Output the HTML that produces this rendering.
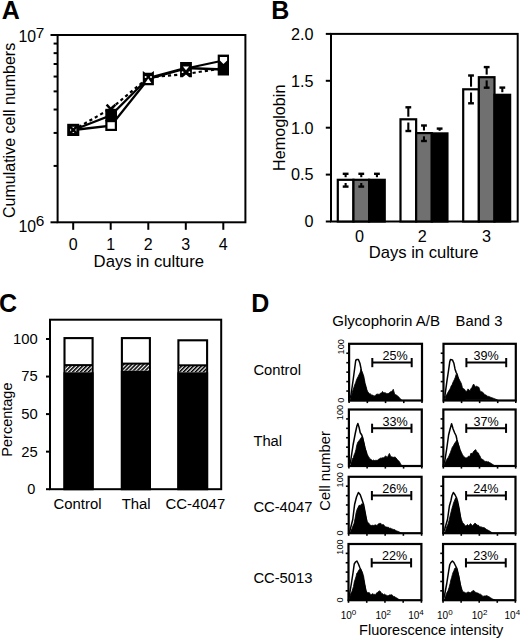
<!DOCTYPE html>
<html><head><meta charset="utf-8"><style>
html,body{margin:0;padding:0;background:#fff;}
svg{display:block;}
svg text{font-family:"Liberation Sans", sans-serif;fill:#000;}
</style></head><body>
<svg width="520" height="640" viewBox="0 0 520 640">
<rect width="520" height="640" fill="#fff"/>
<text x="1.80" y="18.80" font-size="25" text-anchor="start" font-weight="bold" >A</text>
<rect x="57.60" y="35.00" width="187.80" height="187.30" fill="none" stroke="#000" stroke-width="2" />
<line x1="50.50" y1="222.30" x2="57.60" y2="222.30" stroke="#000" stroke-width="2" />
<line x1="50.50" y1="35.00" x2="57.60" y2="35.00" stroke="#000" stroke-width="2" />
<line x1="53.60" y1="165.92" x2="57.60" y2="165.92" stroke="#000" stroke-width="2" />
<line x1="53.60" y1="132.94" x2="57.60" y2="132.94" stroke="#000" stroke-width="2" />
<line x1="53.60" y1="109.53" x2="57.60" y2="109.53" stroke="#000" stroke-width="2" />
<line x1="53.60" y1="91.38" x2="57.60" y2="91.38" stroke="#000" stroke-width="2" />
<line x1="53.60" y1="76.55" x2="57.60" y2="76.55" stroke="#000" stroke-width="2" />
<line x1="53.60" y1="64.01" x2="57.60" y2="64.01" stroke="#000" stroke-width="2" />
<line x1="53.60" y1="53.15" x2="57.60" y2="53.15" stroke="#000" stroke-width="2" />
<line x1="53.60" y1="43.57" x2="57.60" y2="43.57" stroke="#000" stroke-width="2" />
<line x1="73.20" y1="222.30" x2="73.20" y2="229.80" stroke="#000" stroke-width="2" />
<text x="73.20" y="249.50" font-size="16" text-anchor="middle" font-weight="normal" >0</text>
<line x1="110.70" y1="222.30" x2="110.70" y2="229.80" stroke="#000" stroke-width="2" />
<text x="110.70" y="249.50" font-size="16" text-anchor="middle" font-weight="normal" >1</text>
<line x1="148.30" y1="222.30" x2="148.30" y2="229.80" stroke="#000" stroke-width="2" />
<text x="148.30" y="249.50" font-size="16" text-anchor="middle" font-weight="normal" >2</text>
<line x1="185.80" y1="222.30" x2="185.80" y2="229.80" stroke="#000" stroke-width="2" />
<text x="185.80" y="249.50" font-size="16" text-anchor="middle" font-weight="normal" >3</text>
<line x1="223.30" y1="222.30" x2="223.30" y2="229.80" stroke="#000" stroke-width="2" />
<text x="223.30" y="249.50" font-size="16" text-anchor="middle" font-weight="normal" >4</text>
<text x="148.80" y="267.20" font-size="16.7" text-anchor="middle" font-weight="normal" >Days in culture</text>
<text x="0.00" y="0.00" font-size="16.0" text-anchor="middle" font-weight="normal" transform="translate(14.8,130.4) rotate(-90)">Cumulative cell numbers</text>
<text x="18.50" y="42.40" font-size="15.8" text-anchor="start" font-weight="normal" >10</text>
<text x="35.70" y="38.00" font-size="15.4" text-anchor="start" font-weight="normal" >7</text>
<text x="18.50" y="231.80" font-size="15.8" text-anchor="start" font-weight="normal" >10</text>
<text x="35.70" y="226.40" font-size="15.4" text-anchor="start" font-weight="normal" >6</text>
<polyline points="73.30,130.00 111.00,125.60 148.30,79.00 186.00,68.50 223.30,60.50" fill="none" stroke="#000" stroke-width="2.3" />
<polyline points="73.30,130.00 111.00,115.20 148.30,78.00 186.00,68.00 223.30,69.50" fill="none" stroke="#000" stroke-width="2.3" />
<polyline points="73.30,130.00 111.00,108.50 148.30,77.50 186.00,74.00 223.30,68.20" fill="none" stroke="#000" stroke-width="2.2" stroke-dasharray="3.2,3.0"/>
<rect x="68.70" y="125.30" width="9.10" height="9.20" fill="#fff" stroke="#000" stroke-width="3.0" />
<line x1="69.50" y1="126.10" x2="77.10" y2="133.80" stroke="#000" stroke-width="2.6" />
<line x1="69.50" y1="133.80" x2="77.10" y2="126.10" stroke="#000" stroke-width="2.6" />
<line x1="106.60" y1="104.60" x2="111.00" y2="109.40" stroke="#000" stroke-width="2.4" />
<line x1="115.40" y1="104.60" x2="111.00" y2="109.40" stroke="#000" stroke-width="2.4" />
<rect x="105.30" y="108.80" width="11.70" height="12.60" fill="#000" stroke="#000" stroke-width="0" />
<rect x="106.40" y="121.10" width="9.50" height="8.80" fill="#fff" stroke="#000" stroke-width="2.2" />
<polygon points="142.8,71 145.2,72.8 151.4,72.8 153.9,71 153.9,85.3 142.8,85.3" fill="#000"/>
<polygon points="145.3,82.9 151.3,82.9 148.3,78.6" fill="#fff"/>
<circle cx="145.6" cy="76.9" r="1.0" fill="#fff"/><circle cx="151.0" cy="76.9" r="1.0" fill="#fff"/>
<polygon points="180.1,61.9 191.9,61.9 191.9,77.2 189.3,77.2 186,74.6 182.7,77.2 180.1,77.2" fill="#000"/>
<polygon points="182.9,66.4 189.1,66.4 186,70.2" fill="#fff"/>
<circle cx="182.6" cy="72.2" r="0.9" fill="#fff"/><circle cx="189.4" cy="72.2" r="0.9" fill="#fff"/>
<rect x="217.70" y="54.60" width="11.30" height="20.90" fill="#000" stroke="#000" stroke-width="0" />
<polygon points="219.9,57 227.1,57 227.1,60.6 223.5,64 219.9,60.6" fill="#fff"/>
<text x="271.20" y="18.80" font-size="25" text-anchor="start" font-weight="bold" >B</text>
<rect x="331.00" y="33.90" width="186.70" height="187.60" fill="none" stroke="#000" stroke-width="2" />
<line x1="325.80" y1="221.50" x2="331.00" y2="221.50" stroke="#000" stroke-width="2" />
<text x="313.60" y="227.30" font-size="16.2" text-anchor="end" font-weight="normal" >0</text>
<line x1="325.80" y1="174.60" x2="331.00" y2="174.60" stroke="#000" stroke-width="2" />
<text x="313.60" y="180.40" font-size="16.2" text-anchor="end" font-weight="normal" >0.5</text>
<line x1="325.80" y1="127.70" x2="331.00" y2="127.70" stroke="#000" stroke-width="2" />
<text x="313.60" y="133.50" font-size="16.2" text-anchor="end" font-weight="normal" >1.0</text>
<line x1="325.80" y1="80.80" x2="331.00" y2="80.80" stroke="#000" stroke-width="2" />
<text x="313.60" y="86.60" font-size="16.2" text-anchor="end" font-weight="normal" >1.5</text>
<line x1="325.80" y1="33.90" x2="331.00" y2="33.90" stroke="#000" stroke-width="2" />
<text x="313.60" y="39.70" font-size="16.2" text-anchor="end" font-weight="normal" >2.0</text>
<text x="0.00" y="0.00" font-size="16.2" text-anchor="middle" font-weight="normal" transform="translate(285.4,127.8) rotate(-90)">Hemoglobin</text>
<text x="359.40" y="241.60" font-size="16.2" text-anchor="middle" font-weight="normal" >0</text>
<text x="422.20" y="241.60" font-size="16.2" text-anchor="middle" font-weight="normal" >2</text>
<text x="486.50" y="241.60" font-size="16.2" text-anchor="middle" font-weight="normal" >3</text>
<text x="423.60" y="258.20" font-size="16.6" text-anchor="middle" font-weight="normal" >Days in culture</text>
<rect x="337.80" y="179.80" width="15.65" height="41.70" fill="#fff" stroke="#000" stroke-width="2.2" />
<rect x="353.45" y="179.80" width="15.65" height="41.70" fill="#707070" stroke="#000" stroke-width="2.2" />
<rect x="369.10" y="179.80" width="15.65" height="41.70" fill="#000" stroke="#000" stroke-width="2.2" />
<rect x="400.50" y="119.30" width="15.65" height="102.20" fill="#fff" stroke="#000" stroke-width="2.2" />
<rect x="416.15" y="133.10" width="15.65" height="88.40" fill="#707070" stroke="#000" stroke-width="2.2" />
<rect x="431.80" y="133.40" width="15.65" height="88.10" fill="#000" stroke="#000" stroke-width="2.2" />
<rect x="463.20" y="89.30" width="15.65" height="132.20" fill="#fff" stroke="#000" stroke-width="2.2" />
<rect x="478.85" y="77.20" width="15.65" height="144.30" fill="#707070" stroke="#000" stroke-width="2.2" />
<rect x="494.50" y="94.80" width="15.65" height="126.70" fill="#000" stroke="#000" stroke-width="2.2" />
<line x1="342.73" y1="173.80" x2="348.52" y2="173.80" stroke="#000" stroke-width="2.4" />
<line x1="345.62" y1="173.80" x2="345.62" y2="177.20" stroke="#000" stroke-width="2.1" />
<line x1="342.73" y1="186.60" x2="348.52" y2="186.60" stroke="#000" stroke-width="2.4" />
<line x1="345.62" y1="186.60" x2="345.62" y2="183.00" stroke="#000" stroke-width="2.1" />
<line x1="358.38" y1="173.80" x2="364.17" y2="173.80" stroke="#000" stroke-width="2.4" />
<line x1="361.27" y1="173.80" x2="361.27" y2="177.20" stroke="#000" stroke-width="2.1" />
<line x1="358.38" y1="186.60" x2="364.17" y2="186.60" stroke="#000" stroke-width="2.4" />
<line x1="361.27" y1="186.60" x2="361.27" y2="183.00" stroke="#000" stroke-width="2.1" />
<line x1="374.03" y1="173.80" x2="379.82" y2="173.80" stroke="#000" stroke-width="2.4" />
<line x1="376.93" y1="173.80" x2="376.93" y2="177.20" stroke="#000" stroke-width="2.1" />
<line x1="405.43" y1="107.30" x2="411.22" y2="107.30" stroke="#000" stroke-width="2.4" />
<line x1="408.32" y1="107.30" x2="408.32" y2="116.70" stroke="#000" stroke-width="2.1" />
<line x1="405.43" y1="131.00" x2="411.22" y2="131.00" stroke="#000" stroke-width="2.4" />
<line x1="408.32" y1="131.00" x2="408.32" y2="122.50" stroke="#000" stroke-width="2.1" />
<line x1="421.07" y1="125.50" x2="426.87" y2="125.50" stroke="#000" stroke-width="2.4" />
<line x1="423.97" y1="125.50" x2="423.97" y2="130.50" stroke="#000" stroke-width="2.1" />
<line x1="421.07" y1="141.00" x2="426.87" y2="141.00" stroke="#000" stroke-width="2.4" />
<line x1="423.97" y1="141.00" x2="423.97" y2="136.30" stroke="#000" stroke-width="2.1" />
<line x1="436.73" y1="128.60" x2="442.52" y2="128.60" stroke="#000" stroke-width="2.4" />
<line x1="439.62" y1="128.60" x2="439.62" y2="130.80" stroke="#000" stroke-width="2.1" />
<line x1="468.12" y1="75.50" x2="473.92" y2="75.50" stroke="#000" stroke-width="2.4" />
<line x1="471.02" y1="75.50" x2="471.02" y2="86.70" stroke="#000" stroke-width="2.1" />
<line x1="468.12" y1="103.30" x2="473.92" y2="103.30" stroke="#000" stroke-width="2.4" />
<line x1="471.02" y1="103.30" x2="471.02" y2="92.50" stroke="#000" stroke-width="2.1" />
<line x1="483.77" y1="67.10" x2="489.57" y2="67.10" stroke="#000" stroke-width="2.4" />
<line x1="486.67" y1="67.10" x2="486.67" y2="74.60" stroke="#000" stroke-width="2.1" />
<line x1="483.77" y1="87.70" x2="489.57" y2="87.70" stroke="#000" stroke-width="2.4" />
<line x1="486.67" y1="87.70" x2="486.67" y2="80.40" stroke="#000" stroke-width="2.1" />
<line x1="499.43" y1="87.60" x2="505.22" y2="87.60" stroke="#000" stroke-width="2.4" />
<line x1="502.32" y1="87.60" x2="502.32" y2="92.20" stroke="#000" stroke-width="2.1" />
<text x="-0.90" y="312.00" font-size="25" text-anchor="start" font-weight="bold" >C</text>
<rect x="50.00" y="319.70" width="171.20" height="169.50" fill="none" stroke="#000" stroke-width="2" />
<line x1="46.00" y1="489.20" x2="50.00" y2="489.20" stroke="#000" stroke-width="2" />
<text x="35.40" y="494.10" font-size="14.5" text-anchor="end" font-weight="normal" >0</text>
<line x1="46.00" y1="451.65" x2="50.00" y2="451.65" stroke="#000" stroke-width="2" />
<text x="37.80" y="456.55" font-size="14.8" text-anchor="end" font-weight="normal" >25</text>
<line x1="46.00" y1="414.10" x2="50.00" y2="414.10" stroke="#000" stroke-width="2" />
<text x="37.80" y="419.00" font-size="14.8" text-anchor="end" font-weight="normal" >50</text>
<line x1="46.00" y1="376.55" x2="50.00" y2="376.55" stroke="#000" stroke-width="2" />
<text x="37.80" y="381.45" font-size="14.8" text-anchor="end" font-weight="normal" >75</text>
<line x1="46.00" y1="339.00" x2="50.00" y2="339.00" stroke="#000" stroke-width="2" />
<text x="37.80" y="343.90" font-size="14.8" text-anchor="end" font-weight="normal" >100</text>
<text x="0.00" y="0.00" font-size="14.5" text-anchor="middle" font-weight="normal" transform="translate(12.2,419.6) rotate(-90)">Percentage</text>
<defs><pattern id="hatch" patternUnits="userSpaceOnUse" width="2.8" height="4" patternTransform="rotate(45)"><rect width="2.8" height="4" fill="#fff"/><rect width="1.6" height="4" fill="#000"/></pattern></defs>
<rect x="64.50" y="338.10" width="28.10" height="151.10" fill="#fff" stroke="#000" stroke-width="2.1" />
<rect x="65.50" y="365.10" width="26.10" height="7.20" fill="url(#hatch)"/>
<rect x="63.45" y="372.30" width="30.20" height="116.90" fill="#000" stroke="#000" stroke-width="0" />
<line x1="64.50" y1="365.10" x2="92.60" y2="365.10" stroke="#000" stroke-width="2" />
<text x="77.50" y="508.90" font-size="14.9" text-anchor="middle" font-weight="normal" >Control</text>
<rect x="121.90" y="338.10" width="28.00" height="151.10" fill="#fff" stroke="#000" stroke-width="2.1" />
<rect x="122.90" y="363.60" width="26.00" height="7.10" fill="url(#hatch)"/>
<rect x="120.85" y="370.70" width="30.10" height="118.50" fill="#000" stroke="#000" stroke-width="0" />
<line x1="121.90" y1="363.60" x2="149.90" y2="363.60" stroke="#000" stroke-width="2" />
<text x="136.20" y="508.90" font-size="14.9" text-anchor="middle" font-weight="normal" >Thal</text>
<rect x="178.40" y="340.30" width="28.70" height="148.90" fill="#fff" stroke="#000" stroke-width="2.1" />
<rect x="179.40" y="365.30" width="26.70" height="7.00" fill="url(#hatch)"/>
<rect x="177.35" y="372.30" width="30.80" height="116.90" fill="#000" stroke="#000" stroke-width="0" />
<line x1="178.40" y1="365.30" x2="207.10" y2="365.30" stroke="#000" stroke-width="2" />
<text x="195.40" y="508.90" font-size="14.9" text-anchor="middle" font-weight="normal" >CC-4047</text>
<text x="251.30" y="312.00" font-size="25" text-anchor="start" font-weight="bold" >D</text>
<text x="332.20" y="325.80" font-size="15.05" text-anchor="start" font-weight="normal" >Glycophorin A/B</text>
<text x="455.60" y="325.80" font-size="14.75" text-anchor="start" font-weight="normal" >Band 3</text>
<text x="253.40" y="374.60" font-size="14.75" text-anchor="start" font-weight="normal" >Control</text>
<text x="253.40" y="446.20" font-size="14.75" text-anchor="start" font-weight="normal" >Thal</text>
<text x="253.40" y="512.00" font-size="14.75" text-anchor="start" font-weight="normal" >CC-4047</text>
<text x="253.40" y="582.50" font-size="14.75" text-anchor="start" font-weight="normal" >CC-5013</text>
<text x="0.00" y="0.00" font-size="14.75" text-anchor="middle" font-weight="normal" transform="translate(330.2,470.9) rotate(-90)">Cell number</text>
<polygon points="349.20,400.50 350.90,395.50 353.20,379.50 355.75,360.25 357.00,359.50 358.40,359.50 359.90,363.25 361.00,368.50 361.50,372.00 364.20,382.50 367.20,394.50 369.20,400.50" fill="#fff" stroke="#000" stroke-width="1.5" stroke-linejoin="round"/>
<polygon points="350.90,400.50 350.90,396.60 351.83,394.25 352.77,390.38 353.70,388.00 354.63,384.88 355.57,382.84 356.50,379.75 357.35,378.07 358.20,376.45 359.05,374.48 359.90,373.00 361.00,369.25 362.20,372.00 363.25,374.50 363.90,376.70 365.20,383.70 366.05,386.30 366.90,389.70 367.80,391.77 368.70,392.70 369.53,394.09 370.37,393.70 371.20,394.90 372.07,395.21 372.95,395.03 373.82,396.15 374.70,395.80 375.57,395.27 376.43,394.30 377.30,394.00 378.17,394.55 379.03,393.71 379.90,394.50 380.77,392.90 381.63,393.09 382.50,391.40 383.37,392.66 384.23,392.54 385.10,393.20 385.97,392.72 386.83,393.63 387.70,393.60 388.75,393.35 389.80,392.30 390.68,391.66 391.55,391.46 392.43,390.44 393.30,389.30 394.60,394.00 395.70,394.73 396.80,395.30 397.85,396.20 398.90,397.10 400.20,398.80 401.30,399.65 402.40,400.50" fill="#000" stroke="#000" stroke-width="0.8" />
<rect x="349.10" y="343.80" width="72.90" height="56.70" fill="none" stroke="#000" stroke-width="2.2" />
<line x1="346.30" y1="391.05" x2="349.10" y2="391.05" stroke="#000" stroke-width="1.6" />
<line x1="346.30" y1="381.60" x2="349.10" y2="381.60" stroke="#000" stroke-width="1.6" />
<line x1="346.30" y1="372.15" x2="349.10" y2="372.15" stroke="#000" stroke-width="1.6" />
<line x1="346.30" y1="362.70" x2="349.10" y2="362.70" stroke="#000" stroke-width="1.6" />
<line x1="346.30" y1="353.25" x2="349.10" y2="353.25" stroke="#000" stroke-width="1.6" />
<line x1="349.10" y1="400.50" x2="349.10" y2="403.10" stroke="#000" stroke-width="1.6" />
<line x1="367.33" y1="400.50" x2="367.33" y2="403.10" stroke="#000" stroke-width="1.6" />
<line x1="385.55" y1="400.50" x2="385.55" y2="403.10" stroke="#000" stroke-width="1.6" />
<line x1="403.77" y1="400.50" x2="403.77" y2="403.10" stroke="#000" stroke-width="1.6" />
<line x1="422.00" y1="400.50" x2="422.00" y2="403.10" stroke="#000" stroke-width="1.6" />
<line x1="372.30" y1="362.60" x2="411.70" y2="362.60" stroke="#000" stroke-width="2" />
<line x1="372.30" y1="358.00" x2="372.30" y2="367.20" stroke="#000" stroke-width="2" />
<line x1="411.70" y1="358.00" x2="411.70" y2="367.20" stroke="#000" stroke-width="2" />
<text x="395.20" y="360.00" font-size="12.6" text-anchor="middle" font-weight="normal" >25%</text>
<polygon points="443.60,399.80 444.90,395.90 447.10,379.80 448.60,370.00 449.75,361.80 450.50,359.50 452.40,359.90 453.90,363.30 455.00,368.90 456.10,372.30 457.00,374.00 459.60,383.80 462.60,394.80 464.60,399.80" fill="#fff" stroke="#000" stroke-width="1.5" stroke-linejoin="round"/>
<polygon points="445.25,399.80 445.25,396.60 446.00,395.61 446.75,394.61 447.50,392.97 448.25,392.04 449.00,390.30 449.75,389.58 450.50,387.79 451.25,385.74 452.00,385.00 452.75,382.85 453.50,381.16 454.25,379.80 455.18,377.54 456.10,374.50 456.90,375.30 458.00,377.20 458.95,378.95 459.90,380.80 461.00,382.80 461.50,384.10 462.40,387.60 463.45,388.76 464.50,389.30 465.35,390.86 466.20,391.50 467.10,390.75 468.00,388.90 469.05,390.15 470.10,390.60 471.00,388.50 471.90,387.60 472.75,385.39 473.60,384.10 474.45,385.17 475.30,387.10 476.20,386.28 477.10,386.30 477.95,387.13 478.80,387.10 480.10,391.00 480.97,391.70 481.83,391.69 482.70,392.30 483.75,393.28 484.80,394.90 485.58,394.85 486.35,395.17 487.12,396.25 487.90,396.20 488.75,396.44 489.60,396.73 490.45,397.17 491.30,397.50 492.18,397.82 493.05,398.15 493.93,398.48 494.80,398.80 495.67,399.13 496.53,399.47 497.40,399.80" fill="#000" stroke="#000" stroke-width="0.8" />
<rect x="443.50" y="343.80" width="72.30" height="56.70" fill="none" stroke="#000" stroke-width="2.2" />
<line x1="440.70" y1="391.05" x2="443.50" y2="391.05" stroke="#000" stroke-width="1.6" />
<line x1="440.70" y1="381.60" x2="443.50" y2="381.60" stroke="#000" stroke-width="1.6" />
<line x1="440.70" y1="372.15" x2="443.50" y2="372.15" stroke="#000" stroke-width="1.6" />
<line x1="440.70" y1="362.70" x2="443.50" y2="362.70" stroke="#000" stroke-width="1.6" />
<line x1="440.70" y1="353.25" x2="443.50" y2="353.25" stroke="#000" stroke-width="1.6" />
<line x1="443.50" y1="400.50" x2="443.50" y2="403.10" stroke="#000" stroke-width="1.6" />
<line x1="461.57" y1="400.50" x2="461.57" y2="403.10" stroke="#000" stroke-width="1.6" />
<line x1="479.65" y1="400.50" x2="479.65" y2="403.10" stroke="#000" stroke-width="1.6" />
<line x1="497.72" y1="400.50" x2="497.72" y2="403.10" stroke="#000" stroke-width="1.6" />
<line x1="515.80" y1="400.50" x2="515.80" y2="403.10" stroke="#000" stroke-width="1.6" />
<line x1="466.40" y1="362.60" x2="506.20" y2="362.60" stroke="#000" stroke-width="2" />
<line x1="466.40" y1="358.00" x2="466.40" y2="367.20" stroke="#000" stroke-width="2" />
<line x1="506.20" y1="358.00" x2="506.20" y2="367.20" stroke="#000" stroke-width="2" />
<text x="486.20" y="360.00" font-size="12.6" text-anchor="middle" font-weight="normal" >39%</text>
<text x="0.00" y="0.00" font-size="9.2" text-anchor="middle" font-weight="normal" transform="translate(343.50,346.80) rotate(-90)">100</text>
<text x="0.00" y="0.00" font-size="9.2" text-anchor="middle" font-weight="normal" transform="translate(343.50,400.20) rotate(-90)">0</text>
<polygon points="348.90,466.00 350.50,462.00 353.10,444.75 355.40,432.75 356.90,426.00 357.85,423.40 359.10,427.50 360.25,432.75 361.75,435.00 362.50,437.25 364.90,448.00 367.90,460.00 369.90,466.00" fill="#fff" stroke="#000" stroke-width="1.5" stroke-linejoin="round"/>
<polygon points="350.90,466.00 350.90,463.10 351.72,461.39 352.54,458.41 353.36,457.56 354.18,454.73 355.00,453.00 355.95,449.46 356.90,444.75 358.00,441.75 358.95,440.98 359.90,439.50 361.00,438.00 361.75,436.93 362.50,437.25 363.90,442.60 364.75,446.46 365.60,449.50 366.50,451.90 367.40,454.70 368.45,456.51 369.50,458.20 370.37,458.97 371.23,459.61 372.10,460.30 372.97,460.71 373.85,459.86 374.72,460.85 375.60,460.30 376.45,460.35 377.30,460.32 378.15,459.65 379.00,459.00 379.88,458.80 380.75,457.79 381.62,458.19 382.50,457.70 383.37,457.81 384.23,457.17 385.10,456.40 385.97,455.88 386.83,457.35 387.70,456.90 388.55,454.98 389.40,453.40 390.25,455.32 391.10,456.90 392.00,456.87 392.90,457.30 393.95,457.33 395.00,456.90 396.10,457.93 397.20,459.50 398.30,460.55 399.40,461.60 400.70,464.20 401.55,465.10 402.40,466.00" fill="#000" stroke="#000" stroke-width="0.8" />
<rect x="348.90" y="409.50" width="72.90" height="56.50" fill="none" stroke="#000" stroke-width="2.2" />
<line x1="346.10" y1="456.58" x2="348.90" y2="456.58" stroke="#000" stroke-width="1.6" />
<line x1="346.10" y1="447.17" x2="348.90" y2="447.17" stroke="#000" stroke-width="1.6" />
<line x1="346.10" y1="437.75" x2="348.90" y2="437.75" stroke="#000" stroke-width="1.6" />
<line x1="346.10" y1="428.33" x2="348.90" y2="428.33" stroke="#000" stroke-width="1.6" />
<line x1="346.10" y1="418.92" x2="348.90" y2="418.92" stroke="#000" stroke-width="1.6" />
<line x1="348.90" y1="466.00" x2="348.90" y2="468.60" stroke="#000" stroke-width="1.6" />
<line x1="367.12" y1="466.00" x2="367.12" y2="468.60" stroke="#000" stroke-width="1.6" />
<line x1="385.35" y1="466.00" x2="385.35" y2="468.60" stroke="#000" stroke-width="1.6" />
<line x1="403.58" y1="466.00" x2="403.58" y2="468.60" stroke="#000" stroke-width="1.6" />
<line x1="421.80" y1="466.00" x2="421.80" y2="468.60" stroke="#000" stroke-width="1.6" />
<line x1="372.10" y1="428.30" x2="411.50" y2="428.30" stroke="#000" stroke-width="2" />
<line x1="372.10" y1="423.70" x2="372.10" y2="432.90" stroke="#000" stroke-width="2" />
<line x1="411.50" y1="423.70" x2="411.50" y2="432.90" stroke="#000" stroke-width="2" />
<text x="395.00" y="425.70" font-size="12.6" text-anchor="middle" font-weight="normal" >33%</text>
<polygon points="443.30,465.30 444.90,460.50 446.75,448.50 448.60,435.00 450.10,429.00 451.60,423.75 453.10,429.00 454.60,432.75 456.10,435.75 456.90,439.50 457.50,442.00 459.30,449.30 462.30,460.30 464.30,465.30" fill="#fff" stroke="#000" stroke-width="1.5" stroke-linejoin="round"/>
<polygon points="444.90,465.30 444.90,462.75 445.74,461.48 446.57,460.05 447.41,458.22 448.25,457.50 449.00,455.80 449.75,453.99 450.50,452.25 451.45,449.50 452.40,447.00 453.32,445.94 454.25,444.00 455.00,442.86 455.75,441.75 456.90,440.30 457.65,442.12 458.40,444.30 459.30,446.64 460.20,449.80 461.40,452.30 462.40,454.40 463.45,456.27 464.50,457.00 465.35,457.73 466.20,457.90 467.30,457.62 468.40,456.20 469.70,456.60 471.00,453.10 472.30,454.00 473.15,452.07 474.00,451.00 474.90,450.08 475.80,449.70 476.65,451.64 477.50,452.30 478.35,452.92 479.20,454.90 480.10,456.20 481.00,458.80 481.83,459.02 482.67,459.51 483.50,460.10 484.37,460.91 485.23,461.46 486.10,461.40 486.97,461.51 487.83,462.04 488.70,461.80 489.57,462.58 490.43,462.93 491.30,463.50 492.17,464.10 493.03,464.70 493.90,465.30" fill="#000" stroke="#000" stroke-width="0.8" />
<rect x="443.35" y="409.50" width="72.30" height="56.50" fill="none" stroke="#000" stroke-width="2.2" />
<line x1="440.55" y1="456.58" x2="443.35" y2="456.58" stroke="#000" stroke-width="1.6" />
<line x1="440.55" y1="447.17" x2="443.35" y2="447.17" stroke="#000" stroke-width="1.6" />
<line x1="440.55" y1="437.75" x2="443.35" y2="437.75" stroke="#000" stroke-width="1.6" />
<line x1="440.55" y1="428.33" x2="443.35" y2="428.33" stroke="#000" stroke-width="1.6" />
<line x1="440.55" y1="418.92" x2="443.35" y2="418.92" stroke="#000" stroke-width="1.6" />
<line x1="443.35" y1="466.00" x2="443.35" y2="468.60" stroke="#000" stroke-width="1.6" />
<line x1="461.43" y1="466.00" x2="461.43" y2="468.60" stroke="#000" stroke-width="1.6" />
<line x1="479.50" y1="466.00" x2="479.50" y2="468.60" stroke="#000" stroke-width="1.6" />
<line x1="497.57" y1="466.00" x2="497.57" y2="468.60" stroke="#000" stroke-width="1.6" />
<line x1="515.65" y1="466.00" x2="515.65" y2="468.60" stroke="#000" stroke-width="1.6" />
<line x1="466.25" y1="428.30" x2="506.05" y2="428.30" stroke="#000" stroke-width="2" />
<line x1="466.25" y1="423.70" x2="466.25" y2="432.90" stroke="#000" stroke-width="2" />
<line x1="506.05" y1="423.70" x2="506.05" y2="432.90" stroke="#000" stroke-width="2" />
<text x="486.05" y="425.70" font-size="12.6" text-anchor="middle" font-weight="normal" >37%</text>
<text x="0.00" y="0.00" font-size="9.2" text-anchor="middle" font-weight="normal" transform="translate(343.30,412.50) rotate(-90)">100</text>
<text x="0.00" y="0.00" font-size="9.2" text-anchor="middle" font-weight="normal" transform="translate(343.30,465.70) rotate(-90)">0</text>
<polygon points="348.60,533.20 350.10,530.00 352.75,519.50 354.60,504.50 356.50,497.00 358.40,492.50 360.25,494.75 362.10,500.00 363.60,504.50 365.60,515.20 367.60,527.20 369.60,533.20" fill="#fff" stroke="#000" stroke-width="1.5" stroke-linejoin="round"/>
<polygon points="350.50,533.20 350.50,531.50 351.35,529.24 352.20,528.37 353.05,525.54 353.90,524.00 355.00,518.85 356.10,512.75 357.05,509.44 358.00,507.50 359.10,505.25 360.05,505.55 361.00,504.50 361.95,503.77 362.90,504.10 363.65,506.40 364.40,509.20 365.60,515.70 366.50,518.65 367.40,522.60 368.45,522.75 369.50,524.30 370.37,525.10 371.23,525.39 372.10,525.60 372.85,525.08 373.60,525.46 374.35,525.26 375.10,524.70 376.20,525.33 377.30,525.20 378.17,524.10 379.03,523.48 379.90,523.40 380.90,523.42 381.90,524.65 382.90,524.70 383.68,524.66 384.45,525.78 385.23,526.73 386.00,526.90 386.83,527.10 387.67,527.28 388.50,527.30 389.37,528.27 390.23,528.09 391.10,528.60 391.97,529.04 392.83,529.14 393.70,529.50 394.57,529.61 395.43,530.27 396.30,530.80 397.17,531.10 398.03,531.40 398.90,531.70 399.77,532.20 400.63,532.70 401.50,533.20" fill="#000" stroke="#000" stroke-width="0.8" />
<rect x="348.70" y="476.80" width="72.90" height="56.40" fill="none" stroke="#000" stroke-width="2.2" />
<line x1="345.90" y1="523.80" x2="348.70" y2="523.80" stroke="#000" stroke-width="1.6" />
<line x1="345.90" y1="514.40" x2="348.70" y2="514.40" stroke="#000" stroke-width="1.6" />
<line x1="345.90" y1="505.00" x2="348.70" y2="505.00" stroke="#000" stroke-width="1.6" />
<line x1="345.90" y1="495.60" x2="348.70" y2="495.60" stroke="#000" stroke-width="1.6" />
<line x1="345.90" y1="486.20" x2="348.70" y2="486.20" stroke="#000" stroke-width="1.6" />
<line x1="348.70" y1="533.20" x2="348.70" y2="535.80" stroke="#000" stroke-width="1.6" />
<line x1="366.93" y1="533.20" x2="366.93" y2="535.80" stroke="#000" stroke-width="1.6" />
<line x1="385.15" y1="533.20" x2="385.15" y2="535.80" stroke="#000" stroke-width="1.6" />
<line x1="403.38" y1="533.20" x2="403.38" y2="535.80" stroke="#000" stroke-width="1.6" />
<line x1="421.60" y1="533.20" x2="421.60" y2="535.80" stroke="#000" stroke-width="1.6" />
<line x1="371.90" y1="495.60" x2="411.30" y2="495.60" stroke="#000" stroke-width="2" />
<line x1="371.90" y1="491.00" x2="371.90" y2="500.20" stroke="#000" stroke-width="2" />
<line x1="411.30" y1="491.00" x2="411.30" y2="500.20" stroke="#000" stroke-width="2" />
<text x="394.80" y="493.00" font-size="12.6" text-anchor="middle" font-weight="normal" >26%</text>
<polygon points="443.10,532.80 444.90,528.50 447.50,519.50 449.40,506.00 450.90,500.75 452.00,495.50 453.35,492.50 455.00,494.75 456.50,497.75 457.60,501.50 459.10,508.80 461.60,524.80 463.60,532.80" fill="#fff" stroke="#000" stroke-width="1.5" stroke-linejoin="round"/>
<polygon points="445.25,532.80 445.25,530.75 446.00,529.17 446.75,526.78 447.50,525.36 448.25,523.25 449.18,519.92 450.10,515.75 451.05,512.01 452.00,508.25 452.75,505.63 453.50,503.00 454.25,501.15 455.00,499.25 455.75,497.75 456.90,500.75 457.65,503.43 458.40,506.00 459.85,513.30 461.20,519.30 462.60,522.50 463.70,523.60 464.55,525.03 465.40,525.80 466.45,525.49 467.50,524.50 468.80,525.80 469.70,524.43 470.60,523.60 471.65,524.95 472.70,525.80 473.80,524.26 474.90,523.20 476.00,523.85 477.10,525.30 477.85,525.11 478.60,525.33 479.35,526.65 480.10,526.60 480.97,527.26 481.83,526.89 482.70,527.50 483.75,527.61 484.80,527.90 485.90,529.08 487.00,529.70 487.87,530.02 488.73,530.57 489.60,531.00 490.47,531.60 491.33,532.20 492.20,532.80" fill="#000" stroke="#000" stroke-width="0.8" />
<rect x="443.20" y="476.80" width="72.30" height="56.40" fill="none" stroke="#000" stroke-width="2.2" />
<line x1="440.40" y1="523.80" x2="443.20" y2="523.80" stroke="#000" stroke-width="1.6" />
<line x1="440.40" y1="514.40" x2="443.20" y2="514.40" stroke="#000" stroke-width="1.6" />
<line x1="440.40" y1="505.00" x2="443.20" y2="505.00" stroke="#000" stroke-width="1.6" />
<line x1="440.40" y1="495.60" x2="443.20" y2="495.60" stroke="#000" stroke-width="1.6" />
<line x1="440.40" y1="486.20" x2="443.20" y2="486.20" stroke="#000" stroke-width="1.6" />
<line x1="443.20" y1="533.20" x2="443.20" y2="535.80" stroke="#000" stroke-width="1.6" />
<line x1="461.27" y1="533.20" x2="461.27" y2="535.80" stroke="#000" stroke-width="1.6" />
<line x1="479.35" y1="533.20" x2="479.35" y2="535.80" stroke="#000" stroke-width="1.6" />
<line x1="497.43" y1="533.20" x2="497.43" y2="535.80" stroke="#000" stroke-width="1.6" />
<line x1="515.50" y1="533.20" x2="515.50" y2="535.80" stroke="#000" stroke-width="1.6" />
<line x1="466.10" y1="495.60" x2="505.90" y2="495.60" stroke="#000" stroke-width="2" />
<line x1="466.10" y1="491.00" x2="466.10" y2="500.20" stroke="#000" stroke-width="2" />
<line x1="505.90" y1="491.00" x2="505.90" y2="500.20" stroke="#000" stroke-width="2" />
<text x="485.90" y="493.00" font-size="12.6" text-anchor="middle" font-weight="normal" >24%</text>
<text x="0.00" y="0.00" font-size="9.2" text-anchor="middle" font-weight="normal" transform="translate(343.10,479.80) rotate(-90)">100</text>
<text x="0.00" y="0.00" font-size="9.2" text-anchor="middle" font-weight="normal" transform="translate(343.10,532.90) rotate(-90)">0</text>
<polygon points="348.40,600.20 349.40,595.50 351.60,582.00 353.10,572.25 354.25,564.00 355.40,562.10 356.90,561.00 358.40,564.00 359.90,567.75 361.00,570.00 363.40,580.20 366.40,594.20 368.40,600.20" fill="#fff" stroke="#000" stroke-width="1.5" stroke-linejoin="round"/>
<polygon points="349.75,600.20 349.75,597.00 350.75,593.61 351.75,592.00 352.75,588.75 353.50,586.42 354.25,582.05 355.00,579.75 355.95,576.82 356.90,573.00 357.65,572.41 358.40,570.75 359.15,569.61 359.90,568.90 361.00,569.60 362.10,571.50 363.50,575.70 364.80,583.70 366.00,590.20 367.00,592.40 367.85,592.72 368.70,592.60 369.53,592.79 370.37,594.44 371.20,594.80 372.10,593.72 373.00,593.90 373.87,594.45 374.73,594.37 375.60,594.80 376.45,593.10 377.30,592.60 378.40,591.49 379.50,590.90 380.55,591.61 381.60,593.50 382.47,593.53 383.35,594.78 384.22,593.97 385.10,594.80 385.95,594.89 386.80,595.42 387.65,595.75 388.50,595.60 389.37,594.94 390.23,594.97 391.10,594.80 391.97,594.87 392.83,595.66 393.70,596.50 394.57,596.57 395.45,597.31 396.32,597.78 397.20,598.20 398.07,598.87 398.93,599.53 399.80,600.20" fill="#000" stroke="#000" stroke-width="0.8" />
<rect x="348.50" y="544.00" width="72.90" height="56.20" fill="none" stroke="#000" stroke-width="2.2" />
<line x1="345.70" y1="590.83" x2="348.50" y2="590.83" stroke="#000" stroke-width="1.6" />
<line x1="345.70" y1="581.47" x2="348.50" y2="581.47" stroke="#000" stroke-width="1.6" />
<line x1="345.70" y1="572.10" x2="348.50" y2="572.10" stroke="#000" stroke-width="1.6" />
<line x1="345.70" y1="562.73" x2="348.50" y2="562.73" stroke="#000" stroke-width="1.6" />
<line x1="345.70" y1="553.37" x2="348.50" y2="553.37" stroke="#000" stroke-width="1.6" />
<line x1="348.50" y1="600.20" x2="348.50" y2="602.80" stroke="#000" stroke-width="1.6" />
<line x1="366.73" y1="600.20" x2="366.73" y2="602.80" stroke="#000" stroke-width="1.6" />
<line x1="384.95" y1="600.20" x2="384.95" y2="602.80" stroke="#000" stroke-width="1.6" />
<line x1="403.17" y1="600.20" x2="403.17" y2="602.80" stroke="#000" stroke-width="1.6" />
<line x1="421.40" y1="600.20" x2="421.40" y2="602.80" stroke="#000" stroke-width="1.6" />
<line x1="371.70" y1="562.80" x2="411.10" y2="562.80" stroke="#000" stroke-width="2" />
<line x1="371.70" y1="558.20" x2="371.70" y2="567.40" stroke="#000" stroke-width="2" />
<line x1="411.10" y1="558.20" x2="411.10" y2="567.40" stroke="#000" stroke-width="2" />
<text x="394.60" y="560.20" font-size="12.6" text-anchor="middle" font-weight="normal" >22%</text>
<polygon points="443.00,600.00 444.50,595.50 446.75,583.50 448.60,571.50 449.75,564.75 450.90,562.50 452.40,561.00 453.90,562.50 455.40,565.50 456.90,568.50 459.00,578.00 461.50,592.00 463.50,600.00" fill="#fff" stroke="#000" stroke-width="1.5" stroke-linejoin="round"/>
<polygon points="444.90,600.00 444.90,597.40 445.65,595.92 446.40,593.62 447.15,592.12 447.90,591.00 449.00,587.65 450.10,583.50 450.85,579.98 451.60,577.50 452.35,574.68 453.10,572.25 453.85,571.02 454.60,568.50 455.75,567.75 456.90,569.25 458.00,573.00 458.75,575.87 459.50,580.00 460.25,583.59 461.00,586.50 461.90,589.27 462.80,591.50 463.67,592.04 464.53,592.24 465.40,592.80 466.27,593.16 467.13,592.21 468.00,592.30 468.87,592.00 469.73,592.62 470.60,592.80 471.47,591.65 472.33,591.16 473.20,590.60 474.07,590.71 474.93,592.18 475.80,592.30 476.67,592.80 477.53,592.94 478.40,593.20 479.27,594.32 480.13,593.71 481.00,594.90 481.83,595.19 482.67,596.16 483.50,596.20 484.38,595.92 485.25,595.88 486.12,595.92 487.00,595.40 487.87,596.29 488.73,596.57 489.60,597.10 490.47,597.67 491.33,598.23 492.20,598.80 493.07,599.20 493.93,599.60 494.80,600.00" fill="#000" stroke="#000" stroke-width="0.8" />
<rect x="443.05" y="544.00" width="72.30" height="56.20" fill="none" stroke="#000" stroke-width="2.2" />
<line x1="440.25" y1="590.83" x2="443.05" y2="590.83" stroke="#000" stroke-width="1.6" />
<line x1="440.25" y1="581.47" x2="443.05" y2="581.47" stroke="#000" stroke-width="1.6" />
<line x1="440.25" y1="572.10" x2="443.05" y2="572.10" stroke="#000" stroke-width="1.6" />
<line x1="440.25" y1="562.73" x2="443.05" y2="562.73" stroke="#000" stroke-width="1.6" />
<line x1="440.25" y1="553.37" x2="443.05" y2="553.37" stroke="#000" stroke-width="1.6" />
<line x1="443.05" y1="600.20" x2="443.05" y2="602.80" stroke="#000" stroke-width="1.6" />
<line x1="461.12" y1="600.20" x2="461.12" y2="602.80" stroke="#000" stroke-width="1.6" />
<line x1="479.20" y1="600.20" x2="479.20" y2="602.80" stroke="#000" stroke-width="1.6" />
<line x1="497.27" y1="600.20" x2="497.27" y2="602.80" stroke="#000" stroke-width="1.6" />
<line x1="515.35" y1="600.20" x2="515.35" y2="602.80" stroke="#000" stroke-width="1.6" />
<line x1="465.95" y1="562.80" x2="505.75" y2="562.80" stroke="#000" stroke-width="2" />
<line x1="465.95" y1="558.20" x2="465.95" y2="567.40" stroke="#000" stroke-width="2" />
<line x1="505.75" y1="558.20" x2="505.75" y2="567.40" stroke="#000" stroke-width="2" />
<text x="485.75" y="560.20" font-size="12.6" text-anchor="middle" font-weight="normal" >23%</text>
<text x="0.00" y="0.00" font-size="9.2" text-anchor="middle" font-weight="normal" transform="translate(342.90,547.00) rotate(-90)">100</text>
<text x="0.00" y="0.00" font-size="9.2" text-anchor="middle" font-weight="normal" transform="translate(342.90,599.90) rotate(-90)">0</text>
<text x="340.70" y="618.6" font-size="10">10<tspan dy="-3.9" font-size="8">0</tspan></text>
<text x="375.40" y="618.6" font-size="10">10<tspan dy="-3.9" font-size="8">2</tspan></text>
<text x="408.20" y="618.6" font-size="10">10<tspan dy="-3.9" font-size="8">4</tspan></text>
<text x="437.00" y="618.6" font-size="10">10<tspan dy="-3.9" font-size="8">0</tspan></text>
<text x="471.80" y="618.6" font-size="10">10<tspan dy="-3.9" font-size="8">2</tspan></text>
<text x="504.50" y="618.6" font-size="10">10<tspan dy="-3.9" font-size="8">4</tspan></text>
<text x="431.20" y="635.30" font-size="14.5" text-anchor="middle" font-weight="normal" >Fluorescence intensity</text>
</svg>
</body></html>
